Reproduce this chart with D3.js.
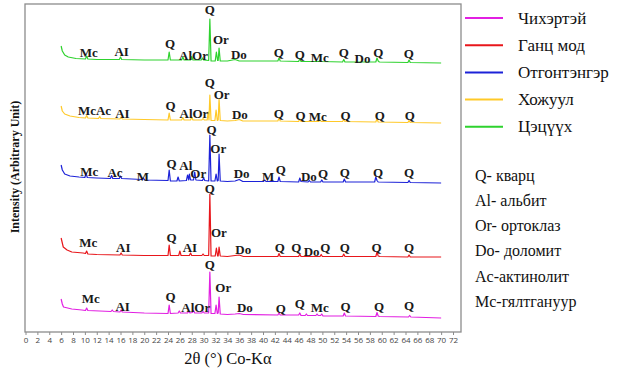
<!DOCTYPE html>
<html><head><meta charset="utf-8">
<script src="https://cdn.jsdelivr.net/npm/d3@7"></script>
<style>body{margin:0;background:#fff}svg{display:block}</style>
</head><body>
<svg id="chart" width="617" height="370"></svg>
<script>
// ---------- data (2θ, intensity in arbitrary units; series are already stacked) ----------
const seriesNames = ["Чихэртэй", "Ганц мод", "Отгонтэнгэр", "Хожуул", "Цэцүүх"];
const seriesColors = ["#e21fe2", "#e8161b", "#1c22d8", "#ffc928", "#2ed22e"];

const chikhertei = [[6,33],[6.2,28],[6.4,25],[7.8,23],[9.5,22],[10.1,21.5],[10.3,24],[10.5,21.5],[12.5,21],[14.4,20.5],[14.6,22],[14.8,20.5],[15.9,20],[16.1,22],[16.3,20],[20,19],[24,18.5],[24.2,27],[24.4,18.5],[25.7,19],[25.9,21],[26.1,19],[27.3,19],[27.5,21],[27.7,19],[28.1,19.5],[28.3,21.5],[28.5,19],[29.7,19],[29.9,20.5],[30.1,19],[30.85,19],[31.05,60],[31.25,18.5],[31.9,18.5],[32.1,27],[32.3,18.5],[32.45,19],[32.6,35],[32.8,18],[34,17.5],[35.3,18],[36,18.5],[36.7,17.5],[42.5,17],[42.7,19],[42.9,17],[46,17],[46.2,19],[46.4,16.5],[47.1,16.5],[47.3,18],[47.5,16.5],[48.9,16.5],[49.1,18],[49.3,16.5],[49.7,16.5],[49.9,18],[50.1,16],[53.5,16],[53.7,19],[53.9,16],[59,15.5],[59.2,19.5],[59.4,16],[59.6,15.5],[64.5,15],[64.7,16.5],[64.9,15],[70,14]];
const gantsMod = [[6,94],[6.36,85],[7.0,82],[7.8,80],[9.7,79],[10.1,78.5],[10.3,81],[10.5,78],[12,77.5],[15.9,77],[16.1,79],[16.3,77],[20,76.5],[24,76.5],[24.2,87],[24.4,76.5],[25.8,76.5],[26,81],[26.2,76.5],[27.6,76.5],[27.8,79],[28,76.5],[29.7,76.5],[29.9,78],[30.1,76.5],[30.85,76.5],[31.05,138],[31.25,76],[31.95,76],[32.15,84],[32.35,76],[32.45,76],[32.6,85],[32.8,76],[34,75.5],[35.3,76.5],[36,77],[36.7,75.5],[42.5,75.5],[42.7,78.5],[42.9,75.5],[46,75.5],[46.2,78],[46.4,75.5],[49.6,75.5],[49.8,77.5],[50,75.5],[53.4,75.5],[53.6,78],[53.8,75.5],[59,75.5],[59.2,80],[59.4,76],[59.7,75.5],[64.4,75],[64.6,77],[64.8,75],[70,75]];
const otgontenger = [[6,167],[6.2,162],[6.6,158],[7.5,156],[9,155],[10,154.5],[10.2,159],[10.4,154.5],[12,154],[14.3,153.5],[14.5,156.5],[14.7,153.5],[15.8,153.5],[16,156],[16.2,153.5],[19.6,152.5],[19.8,154],[20.1,152],[24,151.5],[24.2,162],[24.4,151],[25.5,151],[25.7,155],[25.9,151],[27.1,151.5],[27.3,157],[27.5,152],[27.6,158],[27.8,152],[28.3,152],[28.5,160],[28.7,152],[29.8,151.5],[30,154],[30.2,151.5],[30.85,151],[31.05,197],[31.25,151],[31.9,151],[32.1,158],[32.3,151],[32.45,151.5],[32.6,178],[32.8,151],[34,150.5],[35.3,151],[36,152.5],[36.6,150.5],[40.1,150.5],[40.3,152],[40.5,150.5],[42.5,150.5],[42.7,155],[42.9,150.5],[46,150],[46.2,154],[46.4,150.5],[47.6,150],[47.8,151.5],[48,150],[49.7,150],[49.9,152],[50.1,150],[53.5,150],[53.7,153],[53.9,150],[58.8,150],[59,155],[59.2,151.5],[59.4,150],[64.4,149.5],[64.6,151.5],[64.8,149.5],[70,149]];
const khojuul = [[6,226],[6.2,221],[6.6,218],[7.5,216],[9,214.5],[10.1,214],[10.3,216.5],[10.5,214],[12.3,213.5],[12.5,215.5],[12.7,213.5],[15.9,213],[16.1,215],[16.3,213],[20,212.5],[24,212],[24.2,219],[24.4,212],[26.3,212],[26.5,214.5],[26.7,212],[27.8,212],[28,215],[28.2,212],[29.7,212],[29.9,213.5],[30.1,212],[30.6,212],[30.77,220],[30.9,212],[31.05,237],[31.25,211.5],[31.9,211.5],[32.1,222],[32.3,211.5],[32.45,212],[32.6,233],[32.8,211.5],[34,211],[35.3,211.5],[36,212.5],[36.6,211],[42.5,211],[42.7,214],[42.9,211],[46,210.5],[46.2,213],[46.4,210.5],[49.4,210.5],[49.6,212],[49.8,210.5],[53.4,210.5],[53.6,212.5],[53.8,210.5],[59,210],[59.2,213.5],[59.4,210],[64.4,209.5],[64.6,211.5],[64.8,209.5],[70,209]];
const tsetsuukh = [[6,286],[6.2,281],[6.6,277],[7.2,275],[8.5,273.5],[10.1,273],[10.3,276],[10.5,273],[12,272.5],[15.8,272.5],[16,275],[16.2,272.5],[20,272],[24,272],[24.2,280],[24.4,272],[26.3,272],[26.5,275],[26.7,272],[27.8,272],[28,275.5],[28.2,272],[29.6,272],[29.8,274],[30,272],[30.85,271.5],[31.05,313],[31.25,271],[31.95,271],[32.15,280],[32.35,271.5],[32.45,271.5],[32.6,284],[32.8,271],[34,271],[35.3,272.5],[36,271],[42.5,271],[42.7,274],[42.9,271],[46,270.5],[46.2,273.5],[46.4,270.5],[49.4,270.5],[49.6,272],[49.8,270.5],[53.4,270],[53.6,272.5],[53.8,270],[59,270],[59.2,274],[59.4,271],[59.6,270],[64.4,269.5],[64.6,272],[64.8,269.5],[70,269]];

// peak annotations: [text, 2θ, intensity]
const chikherteiLabels = [["Mc",10.98,34],["AI",16.36,26],["Q",24.44,36],["AlOr",28.67,25],["Q",31.06,68],["Or",33.3,45],["Do",36.95,25],["Q",43.01,24],["Q",46.21,29],["Mc",49.58,25],["Q",53.91,26],["Q",59.56,26],["Q",64.61,27]];
const gantsModLabels = [["Mc",10.57,90],["AI",16.46,85],["Q",24.61,95],["AI",27.69,85],["Q",31.06,144],["Or",32.58,100],["Do",36.67,83],["Q",42.85,85],["Q",45.6,85],["Do",48.2,81],["Q",50.5,85],["Q",53.79,85],["Q",59.12,85],["Q",64.61,85]];
const otgontengerLabels = [["Mc",10.74,161],["Ac",15.07,160],["M",19.78,156],["Q",24.61,169],["Al",26.99,167],["Or",29.09,159],["Q",31.35,203],["Or",32.46,184],["Do",36.4,159],["M",40.88,156],["Q",43.01,163],["Do",47.73,156],["Q",50.13,159],["Q",53.79,160],["Q",59.39,160],["Q",64.61,160]];
const khojuulLabels = [["McAc",11.62,222],["AI",16.33,219],["Q",24.44,227],["AlOr",28.37,219],["Q",31.06,250],["Or",33.03,238],["Do",36.11,218],["Q",42.68,219],["Q",46.33,217],["Mc",49.24,216],["Q",53.91,217],["Q",59.68,217],["Q",64.73,217]];
const tsetsuukhLabels = [["Mc",10.64,280],["AI",16.2,281],["Q",24.33,289],["AlOr",28.3,277],["Q",31.06,323],["Or",32.91,293],["Do",35.94,278],["Q",42.68,280],["Q",46.21,278],["Mc",49.58,275],["Q",53.62,280],["Do",56.75,274],["Q",59.4,280],["Q",64.56,279]];

const mineralLegend = ["Q- кварц", "Al- альбит", "Or- ортоклаз", "Do- доломит", "Ac-актинолит", "Mc-гялтгануур"];
const xTicks = [0,2,4,6,8,10,12,14,16,18,20,22,24,26,28,30,32,34,36,38,40,42,44,46,48,50,52,54,56,58,60,62,64,66,68,70,72];
const xTitle = "2θ (°) Co-Kα";
const yTitle = "Intensity (Arbitrary Unit)";

// ---------- drawing ----------
const allSeries = [chikhertei, gantsMod, otgontenger, khojuul, tsetsuukh];
const allLabels = [chikherteiLabels, gantsModLabels, otgontengerLabels, khojuulLabels, tsetsuukhLabels];

const svg = d3.select("#chart");
svg.append("rect").attr("width",617).attr("height",370).attr("fill","#fff");

const x = d3.scaleLinear().domain([0,72]).range([25.5,453]);
const y = d3.scaleLinear().domain([0,328]).range([332,4]);

// frame
svg.append("rect").attr("x",25).attr("y",4).attr("width",436).attr("height",328)
  .attr("fill","none").attr("stroke","#8c8c8c").attr("stroke-width",1.3);

// x axis
const ax = svg.append("g").attr("transform","translate(0,332)")
  .call(d3.axisBottom(x).tickValues(xTicks).tickSize(3).tickPadding(2).tickFormat(d3.format("d")));
ax.select(".domain").remove();
ax.selectAll(".tick line").attr("stroke","#8c8c8c");
ax.selectAll(".tick text").attr("font-family","'Open Sans', 'Liberation Sans', sans-serif")
  .attr("font-size","8px").attr("fill","#444");

// titles
svg.append("text").attr("x",228).attr("y",364).attr("text-anchor","middle")
  .attr("font-family","'Liberation Serif', serif").attr("font-size","16.5px").attr("fill","#111").text(xTitle);
svg.append("text").attr("transform","translate(15,167) rotate(-90)").attr("text-anchor","middle")
  .attr("dominant-baseline","central")
  .attr("font-family","'Liberation Serif', serif").attr("font-weight","bold").attr("font-size","12px").attr("fill","#111").text(yTitle);

// lines
const line = d3.line().x(d => x(d[0])).y(d => y(d[1]));
allSeries.forEach((s,i) => {
  svg.append("path").datum(s).attr("d",line).attr("fill","none")
    .attr("stroke",seriesColors[i]).attr("stroke-width",1.2).attr("stroke-linejoin","round");
});

// peak labels
allLabels.forEach(lbls => {
  svg.append("g").selectAll("text").data(lbls).join("text")
    .attr("x",d => x(d[1])).attr("y",d => y(d[2]))
    .attr("text-anchor","middle").attr("dominant-baseline","central")
    .attr("font-family","'Liberation Serif', serif").attr("font-weight","bold")
    .attr("font-size","13px").attr("fill","#1a1a1a").text(d => d[0]);
});

// series legend
const lg = svg.append("g");
seriesNames.forEach((n,i) => {
  const yy = 18 + i*27.2;
  lg.append("line").attr("x1",465).attr("x2",503).attr("y1",yy).attr("y2",yy)
    .attr("stroke",seriesColors[i]).attr("stroke-width",2);
  lg.append("text").attr("x",518).attr("y",yy).attr("dominant-baseline","central")
    .attr("font-family","'Liberation Serif', serif").attr("font-size","17px").attr("fill","#111").text(n);
});

// mineral legend
mineralLegend.forEach((t,i) => {
  svg.append("text").attr("x",475).attr("y",175 + i*25.3).attr("dominant-baseline","central")
    .attr("font-family","'Liberation Serif', serif").attr("font-size","16px").attr("fill","#111").text(t);
});
</script>
</body></html>
